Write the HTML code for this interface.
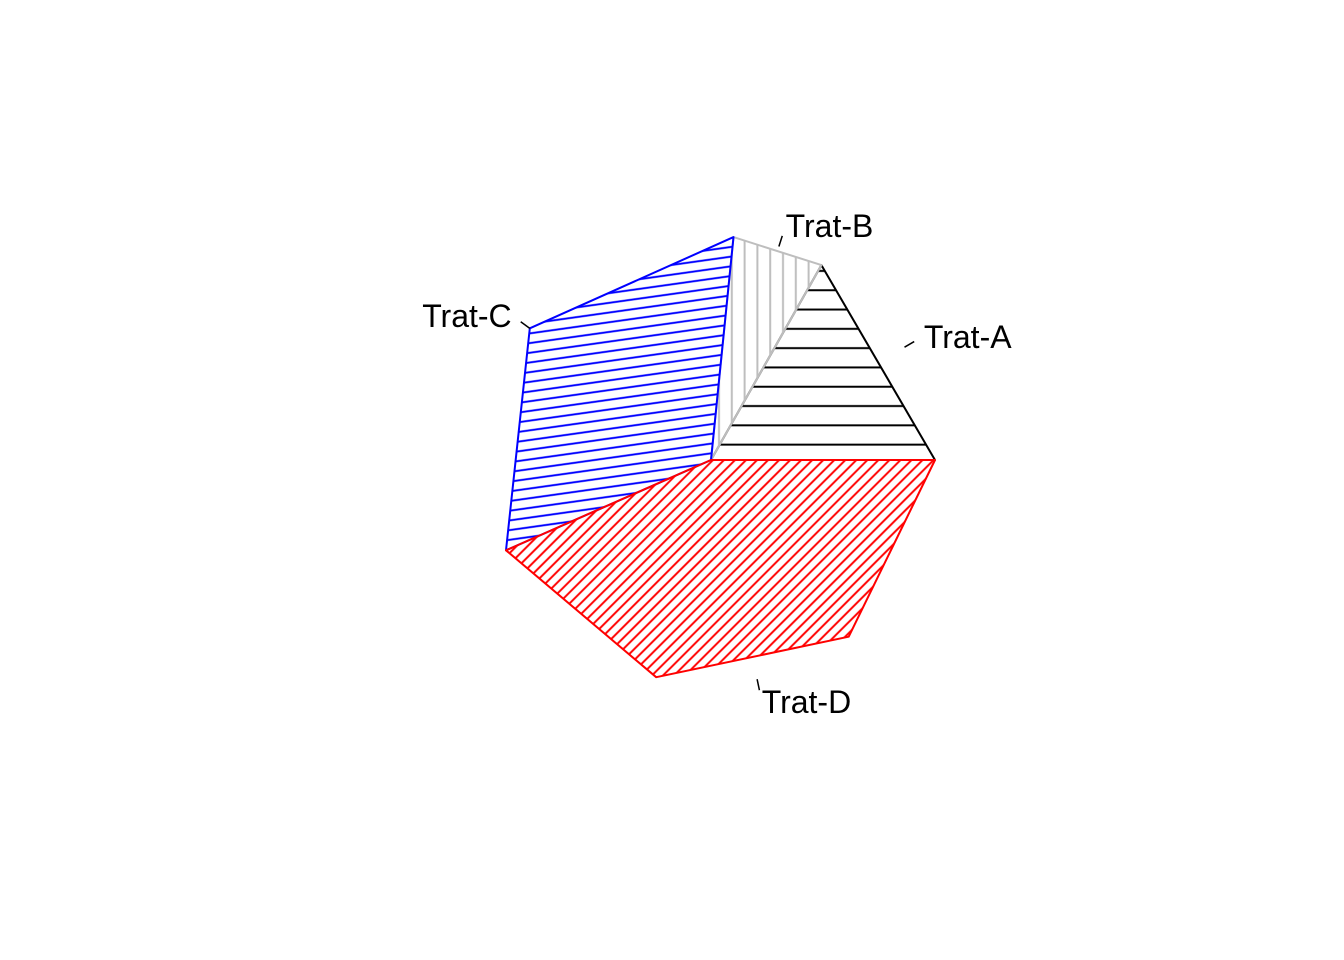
<!DOCTYPE html>
<html><head><meta charset="utf-8"><style>
html,body{margin:0;padding:0;background:#fff}
svg{display:block}
text{font-family:"Liberation Sans",sans-serif;font-size:32px;fill:#000}
</style></head><body>
<svg id="chart" width="1344" height="960" viewBox="0 0 1344 960">
<defs>
<pattern id="pA" patternUnits="userSpaceOnUse" width="20" height="19.3" y="-0.5"><line x1="0" y1="1.2" x2="20" y2="1.2" stroke="#000" stroke-width="2"/></pattern>
<pattern id="pB" patternUnits="userSpaceOnUse" width="12.8" height="20" x="1"><line x1="1.2" y1="0" x2="1.2" y2="20" stroke="#bebebe" stroke-width="2"/></pattern>
<pattern id="pC" patternUnits="userSpaceOnUse" width="40" height="9.6" patternTransform="rotate(-8 711 460)" y="1"><line x1="0" y1="1.2" x2="40" y2="1.2" stroke="#0000ff" stroke-width="2"/></pattern>
<pattern id="pD" patternUnits="userSpaceOnUse" width="40" height="7.8" patternTransform="rotate(-45 711 460)"><line x1="0" y1="1.2" x2="40" y2="1.2" stroke="#ff0000" stroke-width="2"/></pattern>
</defs>
<g id="slices"></g>
<g id="labels"></g>
</svg>
<script>
const labels = ["Trat-A","Trat-B","Trat-C","Trat-D"];
const values = [16.8, 6.6, 33.2, 43.4];
const colors = ["#000000","#bebebe","#0000ff","#ff0000"];
const fills = ["url(#pA)","url(#pB)","url(#pC)","url(#pD)"];
const cx = 711, cy = 460, R = 224, edges = 10;
const NS = "http://www.w3.org/2000/svg";
const total = values.reduce((a,b)=>a+b,0);
function pt(t, r){ const a = 2*Math.PI*t; return [cx + r*Math.cos(a), cy - r*Math.sin(a)]; }
const gS = document.getElementById("slices"), gL = document.getElementById("labels");
let cum = 0;
values.forEach((v,i)=>{
  const t0 = cum/total, t1 = (cum+v)/total; cum += v;
  const n = Math.max(2, Math.floor(edges*(t1-t0)));
  const pts = [[cx,cy]];
  for(let k=0;k<n;k++){ pts.push(pt(t0+(t1-t0)*k/(n-1), R)); }
  const d = "M"+pts.map(p=>p[0].toFixed(1)+","+p[1].toFixed(1)).join("L")+"Z";
  const p = document.createElementNS(NS,"path");
  p.setAttribute("d", d);
  p.setAttribute("fill", fills[i]);
  p.setAttribute("stroke", colors[i]);
  p.setAttribute("stroke-width", "2");
  p.setAttribute("stroke-linejoin", "round");
  
  
  gS.appendChild(p);
  const tm = (t0+t1)/2;
  const a = pt(tm, R), b = pt(tm, R*1.05), c = pt(tm, R*1.1);
  const ln = document.createElementNS(NS,"line");
  ln.setAttribute("x1",a[0]); ln.setAttribute("y1",a[1]);
  ln.setAttribute("x2",b[0]); ln.setAttribute("y2",b[1]);
  ln.setAttribute("stroke","#000"); ln.setAttribute("stroke-width","1.5");
  
  
  gL.appendChild(ln);
  const tx = document.createElementNS(NS,"text");
  tx.setAttribute("x", c[0]); tx.setAttribute("y", c[1]+12);
  tx.setAttribute("text-anchor", Math.cos(2*Math.PI*tm) > 0 ? "start" : "end");
  tx.textContent = labels[i];
  
  
  gL.appendChild(tx);
});
</script>
</body></html>
